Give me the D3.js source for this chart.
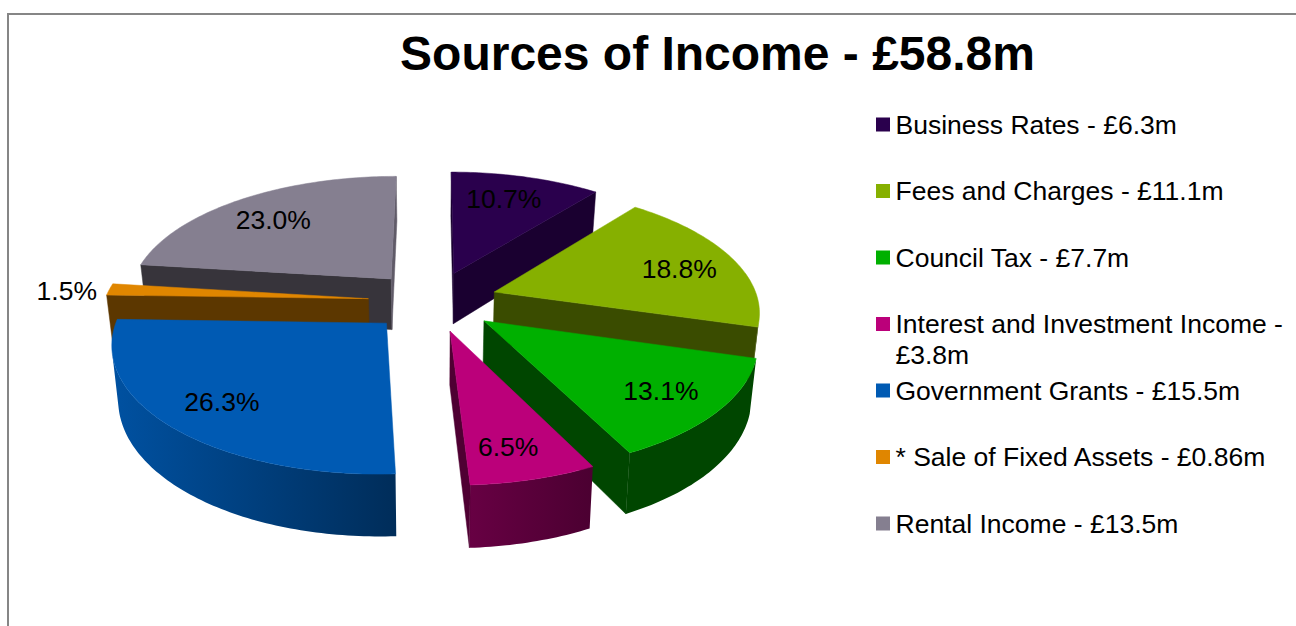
<!DOCTYPE html>
<html>
<head>
<meta charset="utf-8">
<script src="https://cdn.jsdelivr.net/npm/d3@7"></script>
<style>
    html, body { margin: 0; padding: 0; background: #fff; overflow: hidden; }
    text { font-family: "Liberation Sans", Arial, sans-serif; fill: #000; }
</style>
</head>
<body>
<svg id="chart" width="1296" height="626"></svg>
<script>
// chart values
const chartTitle = "Sources of Income - £58.8m";
const categories = ["Business Rates", "Fees and Charges", "Council Tax", "Interest and Investment Income",
    "Government Grants", "* Sale of Fixed Assets", "Rental Income"];
const amountLabels = ["£6.3m", "£11.1m", "£7.7m", "£3.8m", "£15.5m", "£0.86m", "£13.5m"];
const percentages = [10.7, 18.8, 13.1, 6.5, 26.3, 1.5, 23.0];

// styles
const colors = ["#2a004d", "#86b000", "#00b000", "#bb007a", "#005ab3", "#e08600", "#857f90"];
const cutShade = [[0.38, 0.38], [0.57, 0.57], [0.6, 0.6], [0.58, 0.58], [0.5, 0.5], [0.59, 0.59], [0.59, 0.28]];
const rimShade = [[0.38, 0.38], [0.57, 0.57], [0.6, 0.6], [0.6, 0.45], [0.5, 0.1], [0.59, 0.59], [0.59, 0.59]];
const labelRadius = [0.75, 0.76, 0.78, 0.8, 0.78, 1.16, 0.74];
const labelTurn = [-2, 2.5, 0.5, 1.7, 0, -1.2, -1.5];

// perspective settings for the tilted pie, fitted to the picture
const centerX = 433, centerY = 301;
const radiusX = 264, radiusY = 122.8;
const perspective = 0.141;
const explode = 0.246;
const thickness = 52;
const bottomScale = 0.98;

const svg = d3.select("#chart");
const defs = svg.append("defs");

function project(x, y, bottom) {
    let w = 1 + perspective * y;
    let sx = radiusX * x / w;
    let sy = centerY - radiusY * y / w;
    if (bottom) {
        return [centerX + sx * bottomScale, sy + thickness / w];
    }
    return [centerX + sx, sy];
}

const line = d3.line();
const pie = d3.pie().sort(null).value(d => d);

const slices = pie(percentages).map((p, i) => {
    let mid = (p.startAngle + p.endAngle) / 2;
    let ox = explode * Math.sin(mid), oy = explode * Math.cos(mid);
    let steps = Math.max(2, Math.ceil((p.endAngle - p.startAngle) / (Math.PI / 180)));
    let rim = d3.range(steps + 1).map(k => {
        let a = p.startAngle + (p.endAngle - p.startAngle) * k / steps;
        return [ox + Math.sin(a), oy + Math.cos(a)];
    });
    return { i: i, mid: mid, ox: ox, oy: oy, rim: rim, apexY: project(ox, oy)[1] };
});

const chartArea = svg.append("g");

// paint the slices from the back to the front
slices.slice().sort((a, b) => a.apexY - b.apexY).forEach(s => {
    let g = chartArea.append("g");
    let base = colors[s.i];
    let darken = d3.interpolateRgb(base, "#000");

    // outer curved wall, only the part that faces the viewer
    let visible = s.rim.filter((p, k) => {
        let q = s.rim[k + 1] || p;
        let prev = s.rim[k - 1] || p;
        let facing = pt => pt[0] === pt[2] && pt[1] === pt[3] ? false :
            d3.polygonArea([project(pt[2], pt[3]), project(pt[0], pt[1]), project(pt[0], pt[1], true), project(pt[2], pt[3], true)]) <= 0;
        return facing([p[0], p[1], q[0], q[1]]) || facing([prev[0], prev[1], p[0], p[1]]);
    });
    if (visible.length > 1) {
        let tops = visible.map(p => project(p[0], p[1]));
        let bottoms = visible.map(p => project(p[0], p[1], true)).reverse();
        let gradId = "rim" + s.i;
        let grad = defs.append("linearGradient")
            .attr("id", gradId)
            .attr("gradientUnits", "userSpaceOnUse")
            .attr("x1", tops[0][0]).attr("y1", 0)
            .attr("x2", tops[tops.length - 1][0]).attr("y2", 0);
        grad.append("stop").attr("offset", 0).attr("stop-color", darken(rimShade[s.i][0]));
        grad.append("stop").attr("offset", 1).attr("stop-color", darken(rimShade[s.i][1]));
        g.append("path")
            .attr("d", line(tops.concat(bottoms)) + "Z")
            .attr("fill", "url(#" + gradId + ")");
    }

    // the two straight cut walls
    let first = s.rim[0], last = s.rim[s.rim.length - 1];
    let walls = [
        [project(first[0], first[1]), project(s.ox, s.oy), project(s.ox, s.oy, true), project(first[0], first[1], true)],
        [project(s.ox, s.oy), project(last[0], last[1]), project(last[0], last[1], true), project(s.ox, s.oy, true)]
    ];
    walls.forEach((wall, w) => {
        if (d3.polygonArea(wall) <= 0) {
            let cutCol = darken(cutShade[s.i][w]);
            g.append("path").attr("d", line(wall) + "Z").attr("fill", cutCol).attr("stroke", cutCol).attr("stroke-width", 0.5);
        }
    });

    // top face
    let top = [project(s.ox, s.oy)].concat(s.rim.map(p => project(p[0], p[1])));
    g.append("path").attr("d", line(top) + "Z").attr("fill", base).attr("stroke", base).attr("stroke-width", 0.5);
});

// data labels
slices.forEach(s => {
    let a = s.mid + labelTurn[s.i] * Math.PI / 180;
    let x = s.ox + labelRadius[s.i] * Math.sin(a);
    let y = s.oy + labelRadius[s.i] * Math.cos(a);
    let pos = project(x, y);
    svg.append("text")
        .attr("x", pos[0])
        .attr("y", pos[1])
        .attr("dy", "0.35em")
        .attr("text-anchor", "middle")
        .attr("font-size", 26.5)
        .text(percentages[s.i].toFixed(1) + "%");
});

// frame, only the top and left are in view
svg.append("path")
    .attr("d", "M8,626V14H1296")
    .attr("fill", "none")
    .attr("stroke", "#868686")
    .attr("stroke-width", 2);

svg.append("text")
    .attr("x", 717.5)
    .attr("y", 70)
    .attr("text-anchor", "middle")
    .attr("font-size", 48)
    .attr("font-weight", "bold")
    .text(chartTitle);

// legend
const legendY = d3.scalePoint().domain(categories).range([124.5, 523.5]);
const legend = svg.append("g").selectAll("g").data(categories).join("g")
    .attr("transform", d => "translate(876," + legendY(d) + ")");

legend.append("rect")
    .attr("y", -7)
    .attr("width", 14)
    .attr("height", 14)
    .attr("fill", (d, i) => colors[i]);

legend.each(function(d, i) {
    let g = d3.select(this);
    let full = d + " - " + amountLabels[i];
    // the long entry wraps after the dash
    let rows = full.length > 35 ? [d + " -", amountLabels[i]] : [full];
    rows.forEach((row, r) => {
        g.append("text")
            .attr("x", 19.5)
            .attr("y", r * 31)
            .attr("dy", "0.35em")
            .attr("font-size", 26.5)
            .text(row);
    });
});
</script>
</body>
</html>
